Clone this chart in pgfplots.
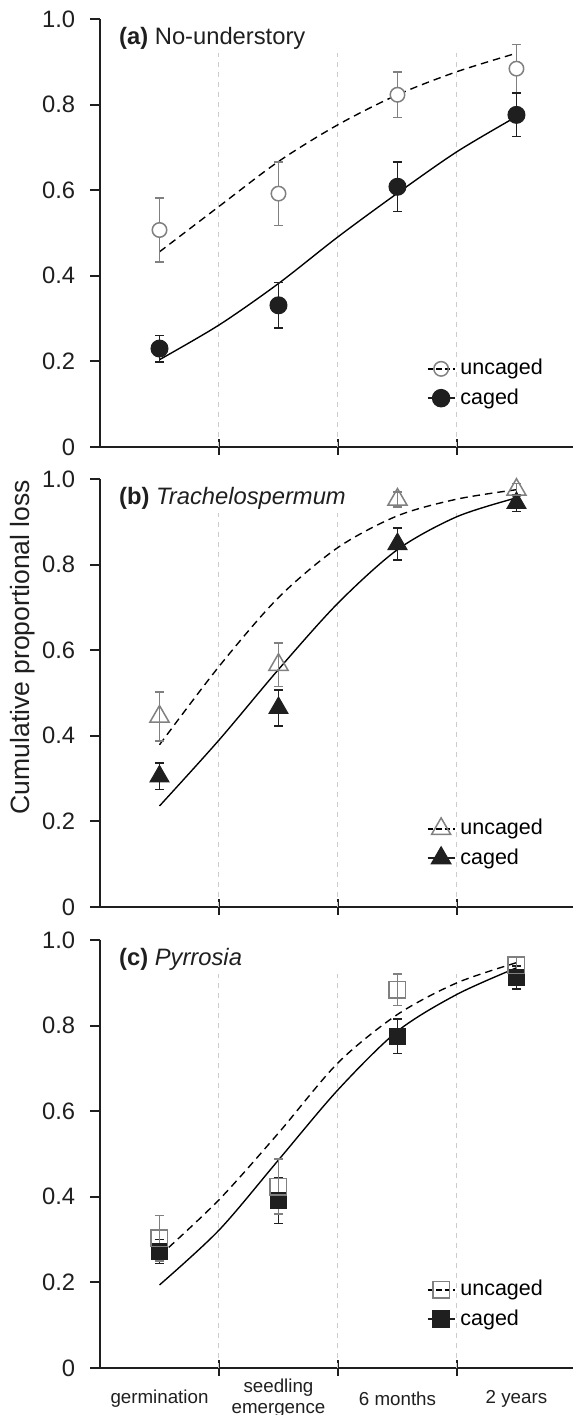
\documentclass[border=0pt]{standalone}
\usepackage{fontspec}
\setmainfont{Liberation Sans}
\usepackage{pgfplots}
\pgfplotsset{compat=1.18}
\definecolor{ungray}{gray}{0.5}
\definecolor{axblack}{gray}{0.12}

\pgfplotsset{
  panel/.style={
    scale only axis, width=189.2pt, height=171.2pt,
    xmin=-0.5, xmax=3.475, ymin=0, ymax=1,
    axis x line*=bottom, axis y line*=left,
    axis line style={-, line width=0.8pt, axblack},
    ytick={0,0.2,0.4,0.6,0.8,1}, yticklabels={0,0.2,0.4,0.6,0.8,1.0},
    ytick align=outside, xtick align=center,
    major tick length=4pt, minor tick length=6.4pt,
    xtick={0,1,2,3}, minor xtick={0.5,1.5,2.5},
    tick style={line width=0.8pt, axblack},
    major x tick style={draw=none},
    xticklabels={},
    tick label style={font=\fontsize{9.5}{11}\selectfont, text=axblack},
    yticklabel style={xshift=-2.4pt},
    clip=false,
    legend cell align=left,
    legend style={draw=none, fill=none, at={(rel axis cs:0.69,0.218)}, anchor=north west,
      font=\fontsize{8.6}{10}\selectfont, inner sep=0pt, row sep=0pt},
    legend image code/.code={\draw[mark repeat=2,mark phase=2,##1] plot coordinates {(0pt,0pt) (5.4pt,0pt) (10.8pt,0pt)};},
  },
  errs/.style={error bars/y dir=both, error bars/y explicit,
      error bars/error bar style={line width=0.6pt, solid},
      error bars/error mark options={rotate=90, mark size=1.8pt, line width=0.6pt, solid}},
  curveU/.style={black, line width=0.55pt, dash pattern=on 3pt off 2pt, smooth, no marks},
  curveC/.style={black, line width=0.55pt, smooth, no marks},
  vgrid/.code={
    \draw[black!20, line width=0.4pt, dash pattern=on 2pt off 2pt] (axis cs:0.5,0) -- (axis cs:0.5,0.92);
    \draw[black!20, line width=0.4pt, dash pattern=on 2pt off 2pt] (axis cs:1.5,0) -- (axis cs:1.5,0.92);
    \draw[black!20, line width=0.4pt, dash pattern=on 2pt off 2pt] (axis cs:2.5,0) -- (axis cs:2.5,0.92);
  },
}

\begin{document}
\begin{tikzpicture}

%================ (a) =================
\begin{axis}[panel, at={(40pt,368.4pt)}, anchor=south west]
\pgfplotsset{vgrid}
\addplot[curveU, forget plot] coordinates {(0,0.456) (0.5,0.562) (1,0.667) (1.5,0.753) (2,0.823) (2.5,0.877) (3,0.920)};
\addplot[curveC, forget plot] coordinates {(0,0.204) (0.5,0.285) (1,0.382) (1.5,0.491) (2,0.593) (2.5,0.690) (3,0.772)};
\addplot[ungray, only marks, mark=*, mark size=2.9pt, mark options={fill=white, line width=0.6pt}, forget plot, errs]
  coordinates {(0,0.507) +- (0,0.075) (1,0.592) +- (0,0.074) (2,0.823) +- (0,0.053) (3,0.884) +- (0,0.056)};
\addplot[axblack, only marks, mark=*, mark size=3.4pt, forget plot, errs]
  coordinates {(0,0.230) +- (0,0.031) (1,0.331) +- (0,0.053) (2,0.608) +- (0,0.058) (3,0.776) +- (0,0.051)};
\addlegendimage{black, line width=0.55pt, dash pattern=on 2.2pt off 1.2pt, mark=o, mark size=2.9pt, mark options={ungray, solid, line width=0.6pt}}
\addlegendentry{uncaged}
\addlegendimage{axblack, line width=0.6pt, mark=*, mark size=3.4pt}
\addlegendentry{caged}
\node[anchor=west, font=\fontsize{9.5}{11}\selectfont, text=axblack] at (rel axis cs:0.022,0.955) {\textbf{(a)} No-understory};
\end{axis}

%================ (b) =================
\begin{axis}[panel, at={(40pt,184.4pt)}, anchor=south west]
\pgfplotsset{vgrid}
\addplot[curveU, forget plot] coordinates {(0,0.379) (0.5,0.562) (1,0.723) (1.5,0.840) (2,0.914) (2.5,0.953) (3,0.975)};
\addplot[curveC, forget plot] coordinates {(0,0.236) (0.5,0.390) (1,0.555) (1.5,0.710) (2,0.835) (2.5,0.912) (3,0.956)};
\addplot[axblack, only marks, mark=triangle*, mark size=4.4pt, forget plot, errs]
  coordinates {(0,0.305) +- (0,0.031) (1,0.465) +- (0,0.042) (2,0.848) +- (0,0.037) (3,0.944) +- (0,0.020)};
\addplot[ungray, only marks, mark=triangle, mark size=4.4pt, mark options={line width=0.6pt}, forget plot, errs]
  coordinates {(0,0.445) +- (0,0.057) (1,0.566) +- (0,0.051) (2,0.952) +- (0,0.018) (3,0.975) +- (0,0.015)};
\addlegendimage{black, line width=0.55pt, dash pattern=on 2.2pt off 1.2pt, mark=triangle, mark size=4.4pt, mark options={ungray, solid, line width=0.6pt}}
\addlegendentry{uncaged}
\addlegendimage{axblack, line width=0.6pt, mark=triangle*, mark size=4.4pt}
\addlegendentry{caged}
\node[anchor=west, font=\fontsize{9.5}{11}\selectfont, text=axblack] at (rel axis cs:0.022,0.955) {\textbf{(b)} \textit{Trachelospermum}};
\end{axis}

%================ (c) =================
\begin{axis}[panel, at={(40pt,0pt)}, anchor=south west,
  xticklabels={germination,{seedling\\emergence},6 months,2 years},
  xticklabel style={align=center, anchor=center, yshift=-10.2pt, font=\fontsize{7.5}{8.3}\selectfont}]
\pgfplotsset{vgrid}
\addplot[curveU, forget plot] coordinates {(0,0.262) (0.5,0.393) (1,0.549) (1.5,0.713) (2,0.826) (2.5,0.900) (3,0.947)};
\addplot[curveC, forget plot] coordinates {(0,0.194) (0.5,0.322) (1,0.486) (1.5,0.650) (2,0.787) (2.5,0.873) (3,0.935)};
\addplot[axblack, only marks, mark=square*, mark size=3.3pt, forget plot, errs]
  coordinates {(0,0.272) +- (0,0.028) (1,0.391) +- (0,0.053) (2,0.775) +- (0,0.040) (3,0.912) +- (0,0.027)};
\addplot[ungray, only marks, mark=square, mark size=3.3pt, mark options={line width=0.6pt}, forget plot, errs]
  coordinates {(0,0.303) +- (0,0.053) (1,0.424) +- (0,0.064) (2,0.884) +- (0,0.037) (3,0.941) +- (0,0.020)};
\addlegendimage{black, line width=0.55pt, dash pattern=on 2.2pt off 1.2pt, mark=square, mark size=3.3pt, mark options={ungray, solid, line width=0.6pt}}
\addlegendentry{uncaged}
\addlegendimage{axblack, line width=0.6pt, mark=square*, mark size=3.3pt}
\addlegendentry{caged}
\node[anchor=west, font=\fontsize{9.5}{11}\selectfont, text=axblack] at (rel axis cs:0.022,0.955) {\textbf{(c)} \textit{Pyrrosia}};
\end{axis}

\node[rotate=90, font=\fontsize{10.6}{12}\selectfont, text=axblack] at (9.2pt,288.4pt) {Cumulative proportional loss};

\pgfresetboundingbox
\path[use as bounding box] (0pt,-18.8pt) rectangle (229.2pt,547.2pt);
\end{tikzpicture}
\end{document}
